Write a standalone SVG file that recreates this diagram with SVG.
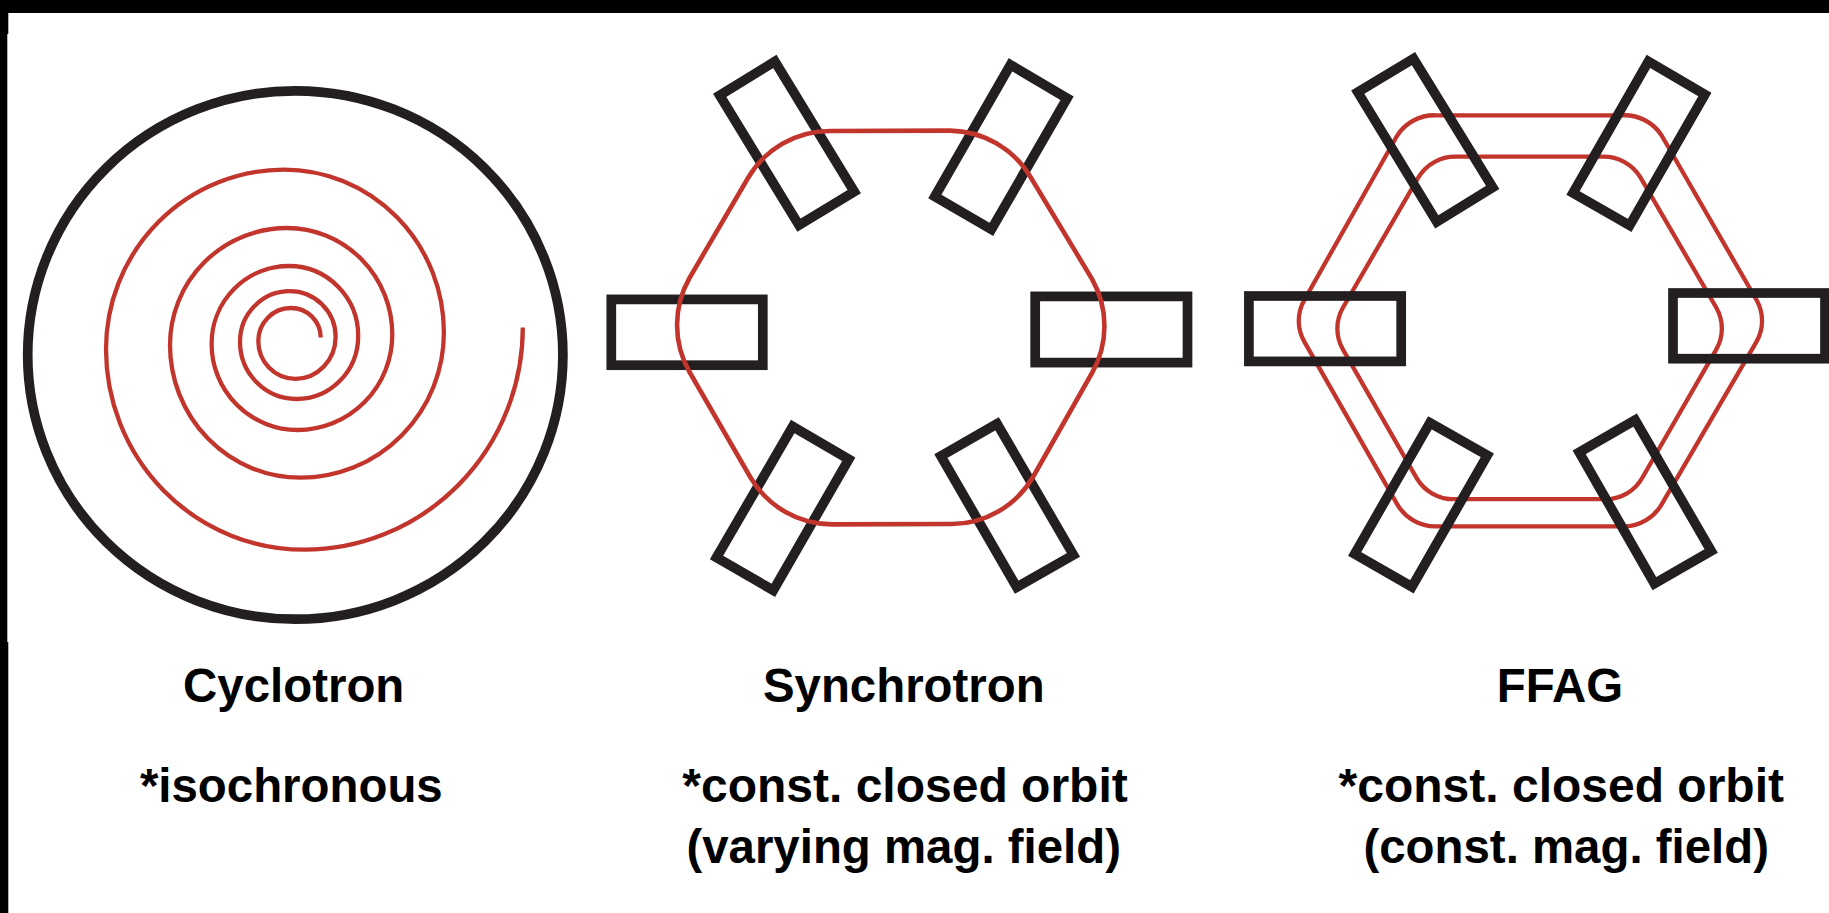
<svg xmlns="http://www.w3.org/2000/svg" width="1829" height="913" viewBox="0 0 1829 913">
<style>
.m{fill:none;stroke:#231f20;stroke-width:9.7;stroke-linejoin:miter}
.o{fill:none;stroke:#c1352d;stroke-width:4.3;stroke-linecap:butt;stroke-linejoin:round}
.t{font-family:"Liberation Sans",Arial,sans-serif;font-weight:700;font-size:47.4px;fill:#000;text-anchor:middle}
.w{font-size:48px}
</style>
<rect width="1829" height="913" fill="#fff"/>
<g id="frame"><rect x="0" y="0" width="1829" height="13" fill="#000"/><rect x="0" y="0" width="8.3" height="34" fill="#000"/><rect x="0" y="34" width="7.3" height="608" fill="#000"/><rect x="0" y="642" width="8.3" height="271" fill="#000"/></g>
<g id="cyclotron">
<ellipse class="m" cx="295.3" cy="355" rx="267.6" ry="264.2"/>
<path id="cyclotron-orbit" class="o" d="M320.7 337.5A29.8 29.5 0 0 0 290.9 308A32.6 33 0 0 0 258.3 341A37.1 37.8 0 0 0 295.4 378.8A40.2 42.1 0 0 0 335.6 336.7A45.9 45.5 0 0 0 289.7 291.2A49.7 50.6 0 0 0 240 341.8A56.6 57.2 0 0 0 296.6 399A61.6 63.1 0 0 0 358.2 335.9A69.3 69.9 0 0 0 288.9 266A77.3 77.9 0 0 0 211.6 343.9A86.1 86.1 0 0 0 297.7 430A94.6 95.4 0 0 0 392.3 334.6A105.3 106.6 0 0 0 287 228A117 117 0 0 0 170 345A130.4 132.7 0 0 0 300.4 477.7A143.5 145.2 0 0 0 443.9 332.5A159.9 162.9 0 0 0 284 169.6A178 179.7 0 0 0 106 349.3A198.2 200.4 0 0 0 304.2 549.7A218.6 222.2 0 0 0 522.8 327.5"/>
<text class="t" x="293.7" y="701.7">Cyclotron</text>
<text class="t" x="291.3" y="801.7">*isochronous</text>
</g>
<g id="synchrotron">
<rect class="m" x="611.3" y="299.4" width="151.5" height="65.8"/>
<rect class="m" x="1035.2" y="296.4" width="152.3" height="66.2"/>
<polygon class="m" points="774.9,61.4 719.7,95.4 799,225.2 854.3,191.7"/>
<polygon class="m" points="1010.5,64.8 1067.1,98.3 991.4,229.4 934.8,196.5"/>
<polygon class="m" points="792.7,426.5 848.8,459.2 773.3,590.3 716.5,557.5"/>
<polygon class="m" points="997.1,423.8 940.9,456.1 1016.7,587.2 1073.4,554.9"/>
<path class="o" style="stroke-width:4.6" d="M830 131L950 130.6A95 95 0 0 1 1030.5 177L1092 279A95 95 0 0 1 1092 373L1033 477A95 95 0 0 1 952 524L832 524.4A95 95 0 0 1 750.5 477.5L689.5 372A95 95 0 0 1 689.5 278L748 178A95 95 0 0 1 830 131Z"/>
<text class="t" x="903.8" y="701.7">Synchrotron</text>
<text class="t w" x="905" y="801.7">*const. closed orbit</text>
<text class="t" x="903.7" y="863.3">(varying mag. field)</text>
</g>
<g id="ffag">
<path class="o" d="M1435.7 115.3L1623.2 115.3A44 44 0 0 1 1661.5 135.2L1756.4 299.8A42 42 0 0 1 1756.4 341.9L1661.5 504.6A44 44 0 0 1 1625.1 526.4L1435.7 526.4A44 44 0 0 1 1397.4 504.6L1304.4 341.9A42 42 0 0 1 1304.4 299.8L1397.4 135.2A44 44 0 0 1 1435.7 115.3Z"/>
<path class="o" d="M1456.7 156.7L1602.1 156.7A43 43 0 0 1 1640.4 177.3L1716.2 307.5A42 42 0 0 1 1716.2 349.6L1642.3 477.8A42 42 0 0 1 1606 499.2L1454.8 499.2A43 43 0 0 1 1416.5 477.8L1343 349.6A42 42 0 0 1 1343 307.5L1418.4 177.3A43 43 0 0 1 1456.7 156.7Z"/>
<rect class="m" x="1248.9" y="296" width="152.3" height="65.4"/>
<rect class="m" x="1673" y="293" width="152" height="65.7"/>
<polygon class="m" points="1413.5,58.7 1357.8,92.2 1436.8,221.9 1492.7,187.5"/>
<polygon class="m" points="1648.4,61.4 1704.9,94.5 1629.7,225.4 1573,193"/>
<polygon class="m" points="1429.9,422.8 1487.3,455.4 1411.9,586.8 1354.7,553.9"/>
<polygon class="m" points="1635.2,420 1579.2,452.3 1654.4,583.6 1711.2,551"/>
<text class="t" x="1560" y="701.7">FFAG</text>
<text class="t w" x="1561.3" y="801.7">*const. closed orbit</text>
<text class="t" x="1566.2" y="863.3">(const. mag. field)</text>
</g>
</svg>
